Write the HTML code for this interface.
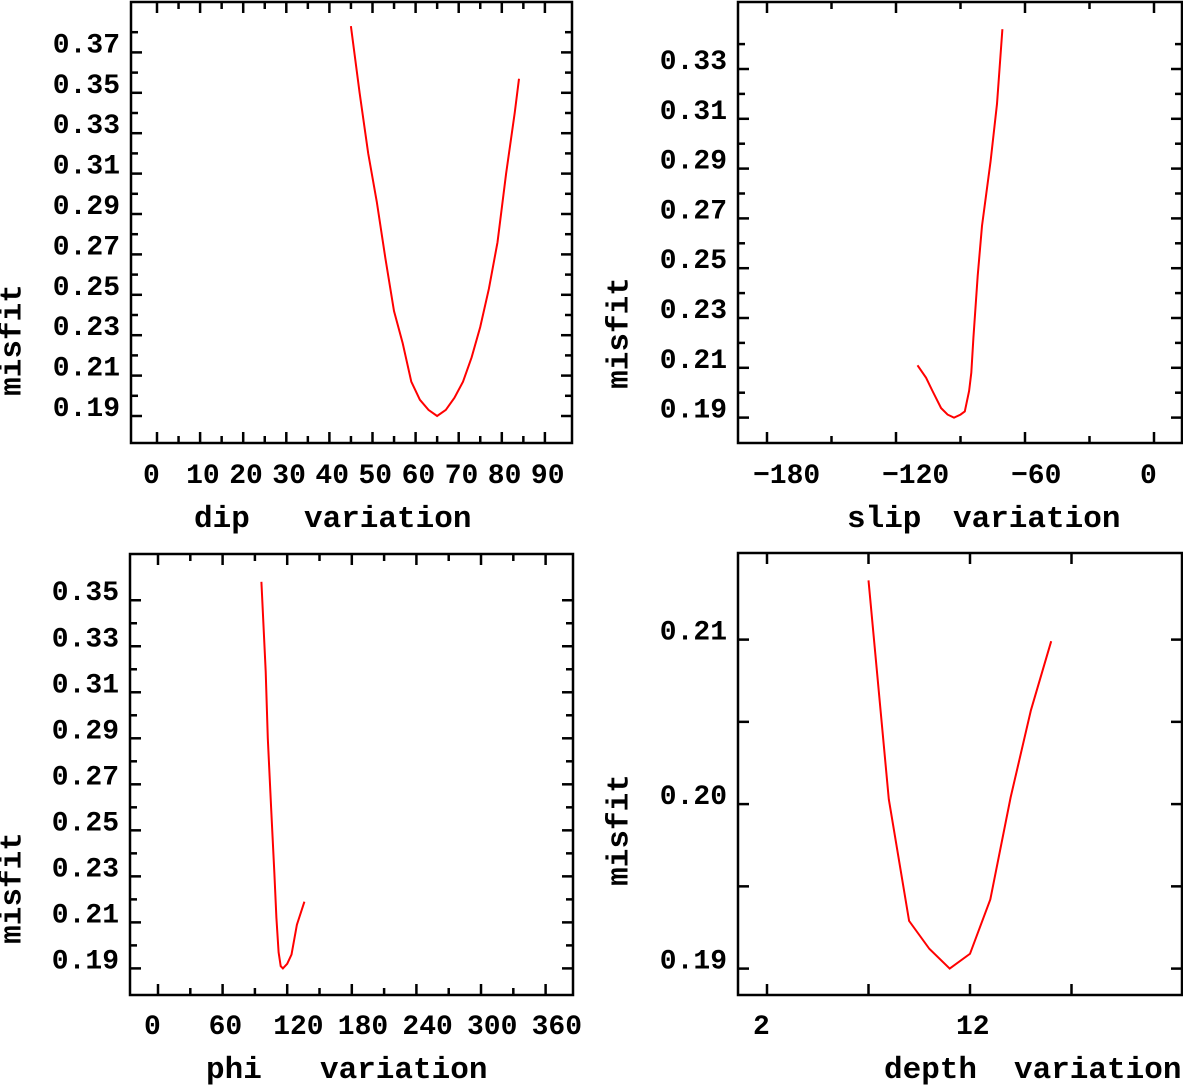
<!DOCTYPE html>
<html><head><meta charset="utf-8"><style>
html,body{margin:0;padding:0;background:#fff;}
svg{display:block;}
text{font-family:"Liberation Mono","DejaVu Sans Mono",monospace;font-weight:bold;fill:#000;}
</style></head><body>
<svg id="chart" width="1183" height="1086" viewBox="0 0 1183 1086" xmlns="http://www.w3.org/2000/svg"></svg>
<script>
// ---- data ----
const dipValues = [45,47,49,51,53,55,57,59,61,63,65,67,69,71,73,75,77,79,81,83,84];
const dipMisfit = [0.383,0.350,0.320,0.296,0.268,0.242,0.226,0.207,0.198,0.193,0.190,0.193,0.199,0.207,0.219,0.234,0.253,0.276,0.310,0.340,0.357];
const dipXTicks = [0,10,20,30,40,50,60,70,80,90];
const dipYTicks = [0.19,0.21,0.23,0.25,0.27,0.29,0.31,0.33,0.35,0.37];

const slipValues = [-110,-106,-103,-99,-96,-93,-90,-88,-86,-85,-84,-82,-80,-78,-76,-73,-70.5];
const slipMisfit = [0.211,0.206,0.2007,0.1938,0.1912,0.190,0.1912,0.1925,0.2007,0.208,0.222,0.247,0.267,0.280,0.293,0.316,0.346];
const slipXTicks = [-180,-120,-60,0];
const slipYTicks = [0.19,0.21,0.23,0.25,0.27,0.29,0.31,0.33];

const phiValues = [96,100,102,105,108,110,112,114,116,120,124,129,136];
const phiMisfit = [0.358,0.319,0.290,0.260,0.232,0.212,0.197,0.191,0.190,0.192,0.196,0.209,0.219];
const phiXTicks = [0,60,120,180,240,300,360];
const phiYTicks = [0.19,0.21,0.23,0.25,0.27,0.29,0.31,0.33,0.35];

const depthValues = [7,8,9,10,11,12,13,14,15,16];
const depthMisfit = [0.2136,0.2003,0.1929,0.1912,0.190,0.1909,0.1942,0.2004,0.2057,0.2099];
const depthXTicks = [2,12];
const depthYTicks = [0.19,0.20,0.21];

const svg = document.getElementById('chart');
const NS = 'http://www.w3.org/2000/svg';
function mk(tag, attrs, parent){
  const e = document.createElementNS(NS, tag);
  for (const k in attrs) e.setAttribute(k, attrs[k]);
  (parent||svg).appendChild(e);
  return e;
}

const panels = [
 {id:'dip', box:[131,2,572,443], x0:157, xs:4.31, y0:416, v0:0.19, ys:2020,
  xv:dipValues, yv:dipMisfit, xt:dipXTicks, xMinor:[5,15,25,35,45,55,65,75,85],
  yt:dipYTicks, yMinor:[0.20,0.22,0.24,0.26,0.28,0.30,0.32,0.34,0.36,0.38], dec:2,
  misfit:[13,340], words:[['dip',194],['variation',304]], ty:527},
 {id:'slip', box:[738,2,1182,443], x0:767+180*2.15, xs:2.15, y0:417.6, v0:0.19, ys:2490,
  xv:slipValues, yv:slipMisfit, xt:slipXTicks, xMinor:[-150,-90,-30],
  yt:slipYTicks, yMinor:[0.20,0.22,0.24,0.26,0.28,0.30,0.32,0.34], dec:2,
  misfit:[620,333], words:[['slip',847],['variation',953]], ty:527},
 {id:'phi', box:[130,554,573,995], x0:158, xs:1.0767, y0:968.4, v0:0.19, ys:2301,
  xv:phiValues, yv:phiMisfit, xt:phiXTicks, xMinor:[30,90,150,210,270,330],
  yt:phiYTicks, yMinor:[0.20,0.22,0.24,0.26,0.28,0.30,0.32,0.34], dec:2,
  misfit:[13,888], words:[['phi',206],['variation',320]], ty:1078},
 {id:'depth', box:[738,553,1182,995], x0:767-2*20.3, xs:20.3, y0:968.6, v0:0.19, ys:16450,
  xv:depthValues, yv:depthMisfit, xt:depthXTicks, xMinor:[7,17],
  yt:depthYTicks, yMinor:[0.195,0.205], dec:2,
  misfit:[620,830], words:[['depth',884],['variation',1014]], ty:1078}
];

panels.forEach(p=>{
  const g = mk('g', {});
  
  
  const X = v => p.x0 + v*p.xs;
  const Y = v => p.y0 - (v-p.v0)*p.ys;
  const [l,t,r,b] = p.box;
  const frame = mk('rect', {x:l,y:t,width:r-l,height:b-t,fill:'none',stroke:'#000','stroke-width':2.5}, g);
  
  
  // x ticks
  const xtick = (v,len)=>{
    const x = X(v);
    mk('line',{x1:x,y1:b,x2:x,y2:b-len,stroke:'#000','stroke-width':2.5},g);
    mk('line',{x1:x,y1:t,x2:x,y2:t+len,stroke:'#000','stroke-width':2.5},g);
  };
  p.xt.forEach(v=>xtick(v,11));
  p.xMinor.forEach(v=>xtick(v,p.id==='depth'?11:7));
  const ytick = (v,len)=>{
    const y = Y(v);
    mk('line',{x1:l,y1:y,x2:l+len,y2:y,stroke:'#000','stroke-width':2.5},g);
    mk('line',{x1:r,y1:y,x2:r-len,y2:y,stroke:'#000','stroke-width':2.5},g);
  };
  p.yt.forEach(v=>ytick(v,11));
  p.yMinor.forEach(v=>ytick(v,p.id==='depth'?11:7));
  // labels
  p.xt.forEach(v=>{
    const tx = mk('text',{x:X(v)-14,y:p.ty-44,'font-size':28},g);
    tx.textContent = v<0 ? '\u2212'+Math.abs(v) : String(v);
    
    
  });
  p.yt.forEach(v=>{
    const ty = mk('text',{x:l-11,y:Y(v),'font-size':28,'text-anchor':'end'},g);
    ty.textContent = v.toFixed(p.dec);
    
    
  });
  const mf = mk('text',{x:p.misfit[0],y:p.misfit[1],'font-size':31,'text-anchor':'middle',
    transform:`rotate(-90 ${p.misfit[0]} ${p.misfit[1]})`,'dominant-baseline':'central'},g);
  mf.textContent = 'misfit';
  
  
  const xt = mk('text',{y:p.ty,'font-size':31},g);
  
  
  p.words.forEach(w=>{
    const s = mk('tspan',{x:w[1]},xt);
    s.textContent = w[0];
  });
  // series
  const pts = p.xv.map((v,i)=>X(v).toFixed(1)+','+Y(p.yv[i]).toFixed(1)).join(' ');
  const line = mk('polyline',{points:pts,fill:'none',stroke:'#ff0000','stroke-width':2},g);
  
  
});
</script>
</body></html>
